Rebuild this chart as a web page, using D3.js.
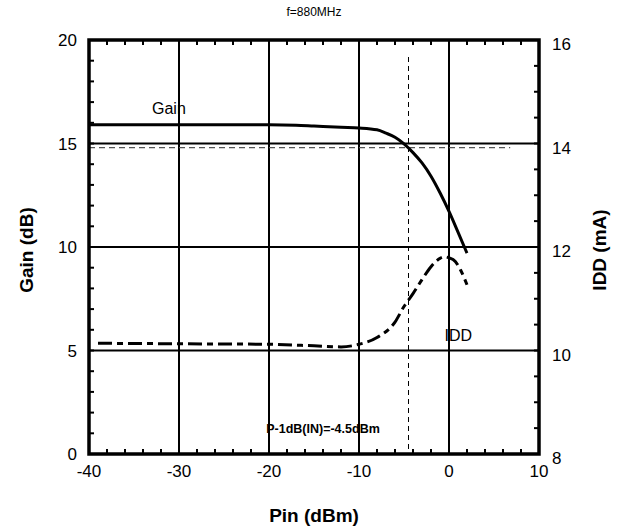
<!DOCTYPE html>
<html>
<head>
<meta charset="utf-8">
<script src="https://cdn.jsdelivr.net/npm/d3@7"></script>
<style>
  body { margin: 0; background: #fff; }
  svg { font-family: "Liberation Sans", Arial, sans-serif; }
</style>
</head>
<body>
<div id="chart"></div>
<script>
// Pin (dBm) vs Gain (dB) and IDD (mA), f=880MHz
var gainPin = [-40, -30, -20, -17, -15, -12, -10, -8, -7, -6, -5, -4, -3, -2, -1, 0, 1, 2];
var gainVal = [15.9, 15.9, 15.9, 15.88, 15.84, 15.78, 15.75, 15.66, 15.5, 15.3, 14.98, 14.56, 14.06, 13.42, 12.62, 11.72, 10.72, 9.7];
var iddPin = [-39, -30, -20, -15, -12, -10, -8, -6, -5, -4, -3, -2, -1, -0.5, 0, 0.7, 1.3, 2];
var iddVal = [10.14, 10.13, 10.12, 10.09, 10.07, 10.12, 10.25, 10.55, 10.85, 11.1, 11.37, 11.62, 11.78, 11.81, 11.79, 11.72, 11.55, 11.27];
var xTicks = [-40, -30, -20, -10, 0, 10];
var gainTicks = [0, 5, 10, 15, 20];
var iddTicks = [8, 10, 12, 14, 16];
var p1dBIn = -4.5;
var p1dBGain = 14.8;

var width = 622, height = 532;
var plotL = 89, plotR = 539, plotT = 40, plotB = 454;

var svg = d3.select("#chart").append("svg")
    .attr("width", width)
    .attr("height", height);

var x = d3.scaleLinear().domain([-40, 10]).range([plotL, plotR]);
var y = d3.scaleLinear().domain([0, 20]).range([plotB, plotT]);
var y2 = d3.scaleLinear().domain([8, 16]).range([plotB, plotT]);

// grid lines
svg.append("g").selectAll("line").data(xTicks.slice(1, -1)).enter()
    .append("line")
    .attr("x1", function(d) { return x(d); })
    .attr("x2", function(d) { return x(d); })
    .attr("y1", plotT).attr("y2", plotB)
    .attr("stroke", "#000").attr("stroke-width", 2);
svg.append("g").selectAll("line").data(gainTicks.slice(1, -1)).enter()
    .append("line")
    .attr("x1", plotL).attr("x2", plotR)
    .attr("y1", function(d) { return y(d); })
    .attr("y2", function(d) { return y(d); })
    .attr("stroke", "#000").attr("stroke-width", 2);

// minor ticks
var minorX = d3.range(-40, 10.01, 2);
svg.append("g").selectAll("line").data(minorX).enter()
    .append("line")
    .attr("x1", function(d) { return x(d); })
    .attr("x2", function(d) { return x(d); })
    .attr("y1", plotB).attr("y2", plotB - 5)
    .attr("stroke", "#000").attr("stroke-width", 2);
svg.append("g").selectAll("line").data(minorX).enter()
    .append("line")
    .attr("x1", function(d) { return x(d); })
    .attr("x2", function(d) { return x(d); })
    .attr("y1", plotT).attr("y2", plotT + 5)
    .attr("stroke", "#000").attr("stroke-width", 2);
svg.append("g").selectAll("line").data(d3.range(0, 20.01, 1)).enter()
    .append("line")
    .attr("x1", plotL).attr("x2", plotL + 5)
    .attr("y1", function(d) { return y(d); })
    .attr("y2", function(d) { return y(d); })
    .attr("stroke", "#000").attr("stroke-width", 2);
svg.append("g").selectAll("line").data(d3.range(8, 16.01, 0.5)).enter()
    .append("line")
    .attr("x1", plotR).attr("x2", plotR - 5)
    .attr("y1", function(d) { return y2(d); })
    .attr("y2", function(d) { return y2(d); })
    .attr("stroke", "#000").attr("stroke-width", 2);

// P-1dB markers
svg.append("line")
    .attr("x1", x(-40)).attr("x2", x(6.8))
    .attr("y1", y(p1dBGain)).attr("y2", y(p1dBGain))
    .attr("stroke", "#555").attr("stroke-width", 1.2)
    .attr("stroke-dasharray", "6,4");
svg.append("line")
    .attr("x1", x(p1dBIn)).attr("x2", x(p1dBIn))
    .attr("y1", 57).attr("y2", plotB)
    .attr("stroke", "#000").attr("stroke-width", 1)
    .attr("stroke-dasharray", "5,4");

// curves
var gainLine = d3.line()
    .x(function(d) { return x(d[0]); })
    .y(function(d) { return y(d[1]); })
    .curve(d3.curveMonotoneX);
svg.append("path")
    .attr("d", gainLine(d3.zip(gainPin, gainVal)))
    .attr("fill", "none").attr("stroke", "#000").attr("stroke-width", 3);

var iddLine = d3.line()
    .x(function(d) { return x(d[0]); })
    .y(function(d) { return y2(d[1]); })
    .curve(d3.curveMonotoneX);
svg.append("path")
    .attr("d", iddLine(d3.zip(iddPin, iddVal)))
    .attr("fill", "none").attr("stroke", "#000").attr("stroke-width", 3)
    .attr("stroke-dasharray", "14,5,6,5");

// frame
svg.append("rect")
    .attr("x", plotL).attr("y", plotT)
    .attr("width", plotR - plotL).attr("height", plotB - plotT)
    .attr("fill", "none").attr("stroke", "#000").attr("stroke-width", 3.5);

// tick labels
svg.append("g").selectAll("text").data(xTicks).enter()
    .append("text")
    .attr("x", function(d) { return x(d); })
    .attr("y", 477)
    .attr("text-anchor", "middle")
    .attr("font-size", 17)
    .text(function(d) { return d; });
svg.append("g").selectAll("text").data(gainTicks).enter()
    .append("text")
    .attr("x", 77)
    .attr("y", function(d) { return y(d) + 6; })
    .attr("text-anchor", "end")
    .attr("font-size", 17)
    .text(function(d) { return d; });
svg.append("g").selectAll("text").data(iddTicks).enter()
    .append("text")
    .attr("x", 552)
    .attr("y", function(d) { return y2(d) + 10; })
    .attr("font-size", 17)
    .text(function(d) { return d; });

// titles and labels
svg.append("text")
    .attr("x", 314).attr("y", 16)
    .attr("text-anchor", "middle").attr("font-size", 12)
    .text("f=880MHz");
svg.append("text")
    .attr("x", 314).attr("y", 522)
    .attr("text-anchor", "middle").attr("font-size", 19).attr("font-weight", "bold")
    .text("Pin (dBm)");
svg.append("text")
    .attr("transform", "translate(33,250) rotate(-90)")
    .attr("text-anchor", "middle").attr("font-size", 19).attr("font-weight", "bold")
    .text("Gain (dB)");
svg.append("text")
    .attr("transform", "translate(606,250) rotate(-90)")
    .attr("text-anchor", "middle").attr("font-size", 19).attr("font-weight", "bold")
    .text("IDD (mA)");
svg.append("text")
    .attr("x", x(-33)).attr("y", 114)
    .attr("font-size", 16)
    .text("Gain");
svg.append("text")
    .attr("x", x(-0.5)).attr("y", 341)
    .attr("font-size", 16)
    .text("IDD");
svg.append("text")
    .attr("x", 323).attr("y", 433)
    .attr("text-anchor", "middle").attr("font-size", 12.5).attr("font-weight", "bold")
    .text("P-1dB(IN)=-4.5dBm");
</script>
</body>
</html>
